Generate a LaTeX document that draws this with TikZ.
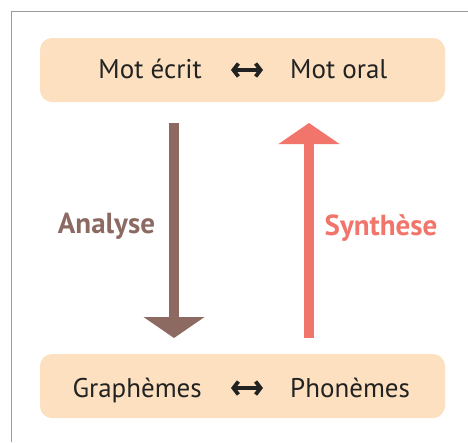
\documentclass[tikz,border=0pt]{standalone}
\usepackage{fontspec}
\setmainfont{PT Sans}
\usetikzlibrary{arrows.meta}
\definecolor{peach}{HTML}{FCE0BF}
\definecolor{brownarrow}{HTML}{8C6A62}
\definecolor{redarrow}{HTML}{F1756A}
\definecolor{framegray}{HTML}{9A9A9A}
\definecolor{ink}{HTML}{222222}
\tikzset{
  box/.style={fill=peach, rounded corners=12pt, minimum width=405pt, minimum height=64pt, inner sep=0pt},
  word/.style={font=\fontsize{27}{32}\selectfont, text=ink, inner sep=0pt},
  label/.style={font=\fontsize{29}{34}\selectfont\bfseries, inner sep=0pt},
  dbl/.style={ink, line width=3.8pt, {Straight Barb[length=5pt,width=13pt]}-{Straight Barb[length=5pt,width=13pt]}},
  bigarrow/.style={line width=10pt, -{Triangle[length=21pt,width=60pt]}},
}
\begin{document}
\begin{tikzpicture}[x=1pt,y=-1pt]
\useasboundingbox (0,0) rectangle (468,442);
\draw[framegray, line width=1.5pt] (11.5,442) -- (11.5,11.5) -- (468,11.5);
% boxes
\node[box] (topbox) at (242.5,70) {};
\node[box] (botbox) at (242.5,386) {};
% top texts
\node[word, anchor=base east] (ecrit) at (202,78) {Mot écrit};
\node[word, anchor=base west] (oral) at (290,78) {Mot oral};
\coordinate (ta1) at (231,70);
\coordinate (ta2) at (263,70);
\draw[dbl] (ta1) -- (ta2);
% bottom texts
\node[word, anchor=base east] (graph) at (202,397) {Graphèmes};
\node[word, anchor=base west] (phon) at (290,397) {Phonèmes};
\coordinate (ba1) at (231,388);
\coordinate (ba2) at (263,388);
\draw[dbl] (ba1) -- (ba2);
% big arrows
\coordinate (aTop) at (174,123);
\coordinate (aBot) at (174,338);
\coordinate (sBot) at (309,338);
\coordinate (sTop) at (309,123);
\draw[bigarrow, brownarrow] (aTop) -- (aBot);
\draw[bigarrow, redarrow] (sBot) -- (sTop);
\node[label, text=brownarrow, anchor=base] (analyse) at (106.5,233) {Analyse};
\node[label, text=redarrow, anchor=base] (synthese) at (381,235) {Synthèse};
\end{tikzpicture}
\end{document}
